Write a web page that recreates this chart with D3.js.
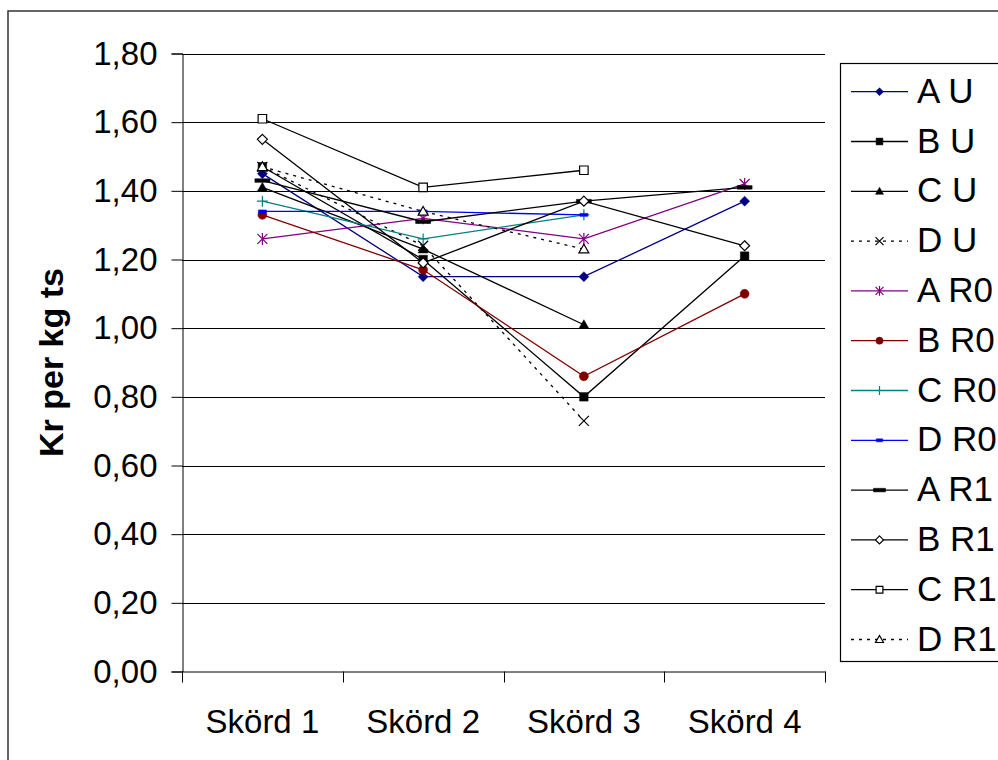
<!DOCTYPE html>
<html>
<head>
<meta charset="utf-8">
<script src="https://cdn.jsdelivr.net/npm/d3@7"></script>
<style>
  body { margin: 0; background: #fff; }
  text { font-family: "Liberation Sans", Arial, sans-serif; fill: #000; }
</style>
</head>
<body>
<script>
const categories = ["Skörd 1", "Skörd 2", "Skörd 3", "Skörd 4"];
const seriesNames = ["A U", "B U", "C U", "D U", "A R0", "B R0", "C R0", "D R0", "A R1", "B R1", "C R1", "D R1"];

// kr per kg ts, null = ingen skörd
const aU  = [1.45, 1.15, 1.15, 1.37];
const bU  = [1.47, 1.20, 0.80, 1.21];
const cU  = [1.41, 1.23, 1.01, null];
const dU  = [1.47, 1.24, 0.73, null];
const aR0 = [1.26, 1.32, 1.26, 1.42];
const bR0 = [1.33, 1.17, 0.86, 1.10];
const cR0 = [1.37, 1.26, 1.33, null];
const dR0 = [1.34, 1.34, 1.33, null];
const aR1 = [1.43, 1.31, 1.37, 1.41];
const bR1 = [1.55, 1.19, 1.37, 1.24];
const cR1 = [1.61, 1.41, 1.46, null];
const dR1 = [1.47, 1.34, 1.23, null];

const yTicks = [0, 0.2, 0.4, 0.6, 0.8, 1.0, 1.2, 1.4, 1.6, 1.8];
const yTickLabels = ["0,00", "0,20", "0,40", "0,60", "0,80", "1,00", "1,20", "1,40", "1,60", "1,80"];

const seriesValues = [aU, bU, cU, dU, aR0, bR0, cR0, dR0, aR1, bR1, cR1, dR1];

// färg, markör, streckad
const seriesStyle = [
  { color: "#000080", marker: "diamond", fill: true },
  { color: "#000000", marker: "square", fill: true },
  { color: "#000000", marker: "triangle", fill: true },
  { color: "#000000", marker: "x", dash: "3,5" },
  { color: "#800080", marker: "asterisk" },
  { color: "#800000", marker: "circle", fill: true },
  { color: "#008080", marker: "plus" },
  { color: "#0000ff", marker: "dash" },
  { color: "#000000", marker: "bigdash" },
  { color: "#000000", marker: "diamond" },
  { color: "#000000", marker: "square" },
  { color: "#000000", marker: "triangle", dash: "3,5" }
];

const width = 998;
const height = 760;
const plot = { left: 182, right: 825, top: 53.5, bottom: 671.5 };

const svg = d3
  .select("body")
  .append("svg")
  .attr("width", width)
  .attr("height", height);

// ram runt diagrammet
svg
  .append("rect")
  .attr("x", 8)
  .attr("y", 11)
  .attr("width", 1100)
  .attr("height", 900)
  .attr("fill", "none")
  .attr("stroke", "#333")
  .attr("stroke-width", 1.5);

const xScale = d3
  .scaleBand()
  .domain(categories)
  .range([plot.left, plot.right]);

const cx = c => xScale(c) + xScale.bandwidth() / 2;

const yScale = d3
  .scaleLinear()
  .domain([0, 1.8])
  .range([plot.bottom, plot.top]);

// rutnät
svg
  .append("g")
  .selectAll("line")
  .data(yTicks.filter(t => t > 0))
  .enter()
  .append("line")
  .attr("x1", plot.left)
  .attr("x2", plot.right)
  .attr("y1", d => Math.round(yScale(d)) + 0.5)
  .attr("y2", d => Math.round(yScale(d)) + 0.5)
  .attr("stroke", "#000")
  .attr("stroke-width", 1);

// y-axel
const yAxis = d3
  .axisLeft(yScale)
  .tickValues(yTicks)
  .tickSize(11)
  .tickPadding(14)
  .tickFormat((d, i) => yTickLabels[i]);

const yG = svg
  .append("g")
  .attr("transform", `translate(${plot.left + 0.5},0)`)
  .call(yAxis);
yG.select(".domain").attr("stroke", "#000");
yG.selectAll(".tick text")
  .attr("font-size", 33)
  .attr("font-family", "Liberation Sans, Arial, sans-serif")
  .attr("fill", "#000");

// x-axel
const xAxis = d3.axisBottom(xScale).tickSize(0).tickPadding(38);
const xG = svg
  .append("g")
  .attr("transform", `translate(0,${plot.bottom})`)
  .call(xAxis);
xG.select(".domain").attr("stroke", "#000");
xG.selectAll(".tick text")
  .attr("font-size", 33)
  .attr("font-family", "Liberation Sans, Arial, sans-serif")
  .attr("fill", "#000");

// skiljestreck mellan kategorierna
const bounds = categories.map(c => xScale(c)).concat([plot.right]);
xG.selectAll(".bound")
  .data(bounds)
  .enter()
  .append("line")
  .attr("class", "bound")
  .attr("x1", d => Math.round(d) + 0.5)
  .attr("x2", d => Math.round(d) + 0.5)
  .attr("y1", 0)
  .attr("y2", 11)
  .attr("stroke", "#000");

// y-axelns titel
svg
  .append("text")
  .attr("transform", `translate(63,${(plot.top + plot.bottom) / 2}) rotate(-90)`)
  .attr("text-anchor", "middle")
  .attr("font-size", 34)
  .attr("font-weight", "bold")
  .text("Kr per kg ts");

function markerPath(type, s) {
  switch (type) {
    case "diamond":
      return `M0,${-s}L${s},0L0,${s}L${-s},0Z`;
    case "square":
      return `M${-s * 0.85},${-s * 0.85}H${s * 0.85}V${s * 0.85}H${-s * 0.85}Z`;
    case "triangle":
      return `M0,${-s}L${s},${s * 0.75}L${-s},${s * 0.75}Z`;
    case "x":
      return `M${-s},${-s}L${s},${s}M${-s},${s}L${s},${-s}`;
    case "asterisk":
      return `M${-s},${-s}L${s},${s}M${-s},${s}L${s},${-s}M0,${-s * 1.2}V${s * 1.2}`;
    case "plus":
      return `M${-s * 1.1},0H${s * 1.1}M0,${-s * 1.1}V${s * 1.1}`;
    case "circle":
      return d3.arc()({ innerRadius: 0, outerRadius: s * 0.9, startAngle: 0, endAngle: 2 * Math.PI });
    case "dash":
      return `M${-s * 0.8},${-1.5}H${s * 0.8}V${1.5}H${-s * 0.8}Z`;
    case "bigdash":
      return `M${-s * 1.5},${-1.8}H${s * 1.5}V${1.8}H${-s * 1.5}Z`;
  }
  return "";
}

function drawMarker(g, st, s) {
  const filled = st.fill || st.marker === "dash" || st.marker === "bigdash";
  const open = !st.fill && ["diamond", "square", "triangle"].includes(st.marker);
  g.append("path")
    .attr("d", markerPath(st.marker, s))
    .attr("fill", filled ? st.color : open ? "#fff" : "none")
    .attr("stroke", st.color)
    .attr("stroke-width", filled ? 0.5 : 1.2);
}

const line = d3
  .line()
  .defined(v => v != null)
  .x((v, i) => cx(categories[i]))
  .y(v => yScale(v));

const seriesG = svg
  .selectAll(".series")
  .data(seriesValues)
  .enter()
  .append("g")
  .attr("class", "series");

seriesG
  .append("path")
  .attr("d", d => line(d))
  .attr("fill", "none")
  .attr("stroke", (d, i) => seriesStyle[i].color)
  .attr("stroke-width", 1.3)
  .attr("stroke-dasharray", (d, i) => seriesStyle[i].dash || null);

seriesG.each(function(vals, si) {
  const g = d3.select(this);
  vals.forEach((v, i) => {
    if (v == null) return;
    const m = g.append("g").attr("transform", `translate(${cx(categories[i])},${yScale(v)})`);
    drawMarker(m, seriesStyle[si], 5);
  });
});

// förklaring
const legend = svg.append("g");
legend
  .append("rect")
  .attr("x", 840.5)
  .attr("y", 63.5)
  .attr("width", 200)
  .attr("height", 598)
  .attr("fill", "#fff")
  .attr("stroke", "#000")
  .attr("stroke-width", 1.2);

const items = legend
  .selectAll(".item")
  .data(seriesNames)
  .enter()
  .append("g")
  .attr("class", "item")
  .attr("transform", (d, i) => `translate(0,${91.7 + i * 49.8})`);

items
  .append("line")
  .attr("x1", 851)
  .attr("x2", 908)
  .attr("stroke", (d, i) => seriesStyle[i].color)
  .attr("stroke-width", 1.3)
  .attr("stroke-dasharray", (d, i) => seriesStyle[i].dash || null);

items.each(function(name, i) {
  const m = d3.select(this).append("g").attr("transform", "translate(879.5,0)");
  drawMarker(m, seriesStyle[i], 4);
});

items
  .append("text")
  .attr("x", 917)
  .attr("y", 11)
  .attr("font-size", 35)
  .text(d => d);
</script>
</body>
</html>
